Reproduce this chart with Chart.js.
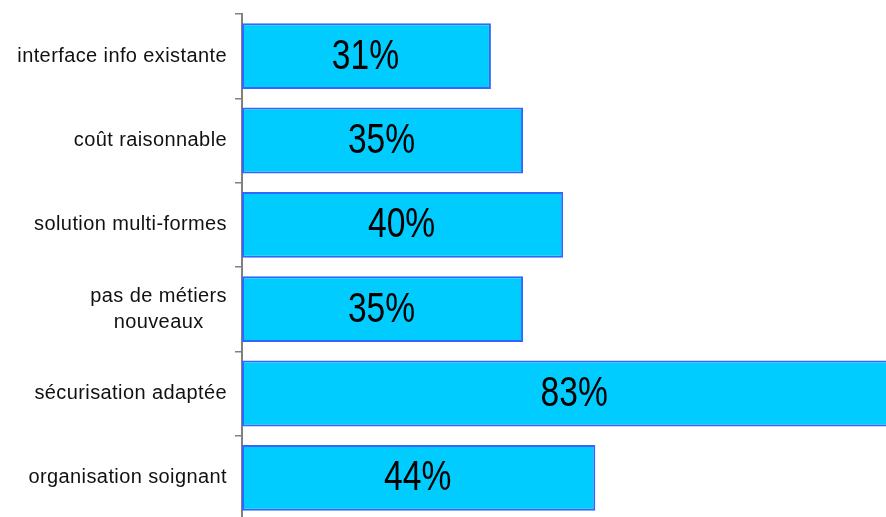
<!DOCTYPE html>
<html lang="fr">
<head>
  <meta charset="UTF-8" />
  <title>Critères</title>
  <script src="https://cdn.jsdelivr.net/npm/chart.js"></script>
  <style>
    html, body { margin: 0; padding: 0; background: #fff; overflow: hidden; }
    .wrap { width: 886px; height: 520px; }
  </style>
</head>
<body>
  <div class="wrap"><canvas id="critChart"></canvas></div>

  <script>
    const categories = [
      ['interface info existante'],
      ['coût raisonnable'],
      ['solution multi-formes'],
      ['pas de métiers', 'nouveaux'],
      ['sécurisation adaptée'],
      ['organisation soignant']
    ];
    const values = [31, 35, 40, 35, 83, 44];

    // libellés des catégories, centrés ligne par ligne
    const catLabels = {
      id: 'catLabels',
      afterDraw(chart) {
        const ctx = chart.ctx;
        const y = chart.scales.y;
        ctx.save();
        ctx.font = '20px "Liberation Sans", Arial, sans-serif';
        ctx.letterSpacing = '0.4px';
        ctx.fillStyle = '#111';
        ctx.textBaseline = 'middle';
        ctx.textAlign = 'center';
        categories.forEach((lines, i) => {
          const cy = y.getPixelForTick(i);
          const widest = Math.max(...lines.map(l => ctx.measureText(l).width));
          const cx = 227 - widest / 2;
          const lh = 26;
          lines.forEach((l, j) => {
            ctx.fillText(l, cx, cy + (j - (lines.length - 1) / 2) * lh);
          });
        });
        ctx.restore();
      }
    };

    // pourcentages dans les barres (police étroite simulée)
    const barValues = {
      id: 'barValues',
      afterDatasetsDraw(chart) {
        const ctx = chart.ctx;
        const meta = chart.getDatasetMeta(0);
        ctx.save();
        ctx.font = '42px "Liberation Sans", Arial, sans-serif';
        ctx.fillStyle = '#000';
        ctx.textAlign = 'center';
        ctx.textBaseline = 'middle';
        meta.data.forEach((bar, i) => {
          const cx = (bar.x + bar.base) / 2 - 1;
          ctx.save();
          ctx.translate(cx, bar.y + 1);
          ctx.scale(0.8, 1);
          ctx.fillText(values[i] + '%', 0, 0);
          ctx.restore();
        });
        ctx.restore();
      }
    };

    new Chart(document.getElementById('critChart'), {
      type: 'bar',
      data: {
        labels: categories,
        datasets: [{
          data: values,
          backgroundColor: '#00ccff',
          borderColor: '#3366ff',
          borderWidth: 2,
          borderSkipped: false,
          barPercentage: 0.78,
          categoryPercentage: 1
        }]
      },
      options: {
        indexAxis: 'y',
        responsive: true,
        maintainAspectRatio: false,
        animation: false,
        layout: { padding: { top: 14, right: 0, bottom: 0, left: 0 } },
        plugins: { legend: { display: false }, tooltip: { enabled: false } },
        scales: {
          x: { display: false, min: 0, max: 80.2 },
          y: {
            offset: true,
            grid: { offset: true, drawOnChartArea: false, drawTicks: true, tickLength: 7, color: '#808080', lineWidth: 1.5 },
            border: { display: true, color: '#808080', width: 2 },
            ticks: { display: false },
            afterFit(scale) { scale.width = 242; }
          }
        }
      },
      plugins: [catLabels, barValues]
    });
  </script>
</body>
</html>
